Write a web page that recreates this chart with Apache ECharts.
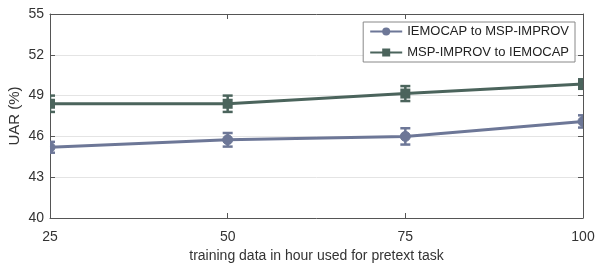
<!DOCTYPE html>
<html>
<head>
<meta charset="utf-8">
<script src="https://cdn.jsdelivr.net/npm/echarts@6/dist/echarts.min.js"></script>
<style>
  html, body { margin: 0; padding: 0; background: #fff; }
  #chart { width: 597px; height: 265px; }
</style>
</head>
<body>
<div id="chart"></div>
<script>
  // hours of pretext training data
  const hours = [25, 50, 75, 100];
  const yTicks = [40, 43, 46, 49, 52, 55];

  const iemoToMsp = [45.2, 45.75, 46.0, 47.1];
  const iemoToMspErr = [0.4, 0.5, 0.6, 0.45];
  const mspToIemo = [48.4, 48.4, 49.15, 49.85];
  const mspToIemoErr = [0.6, 0.6, 0.55, 0.35];

  const names = ['IEMOCAP to MSP-IMPROV', 'MSP-IMPROV to IEMOCAP'];
  const colors = ['#6d7797', '#4b645c'];

  const pairs = (vals, errs) => hours.map((h, i) => [h, vals[i], errs[i]]);

  const errorBars = (color, shape) => (params, api) => {
    const x = api.value(0);
    const y = api.value(1);
    const e = api.value(2);
    const p = api.coord([x, y]);
    const top = api.coord([x, y + e]);
    const bot = api.coord([x, y - e]);
    const cap = 5;
    const st = { stroke: color, lineWidth: 2.5 };
    const children = [
      { type: 'line', shape: { x1: p[0], y1: top[1], x2: p[0], y2: bot[1] }, style: st },
      { type: 'line', shape: { x1: p[0] - cap, y1: top[1], x2: p[0] + cap, y2: top[1] }, style: st },
      { type: 'line', shape: { x1: p[0] - cap, y1: bot[1], x2: p[0] + cap, y2: bot[1] }, style: st }
    ];
    if (shape === 'circle') {
      children.push({ type: 'circle', shape: { cx: p[0], cy: p[1], r: 5 }, style: { fill: color, stroke: color, lineWidth: 1 } });
    } else {
      children.push({ type: 'rect', shape: { x: p[0] - 5, y: p[1] - 5, width: 10, height: 10 }, style: { fill: color } });
    }
    return { type: 'group', children: children };
  };

  const chart = echarts.init(document.getElementById('chart'));
  const axisColor = '#555555';
  const font = 'Liberation Sans, Arial, sans-serif';

  chart.setOption({
    animation: false,
    grid: { left: 50, right: 14, top: 14, bottom: 47, containLabel: false, outerBoundsMode: 'none' },
    legend: {
      data: names,
      right: 22,
      top: 22,
      orient: 'vertical',
      itemWidth: 32,
      itemHeight: 10,
      itemGap: 8,
      padding: [3, 6, 3, 6],
      borderColor: '#888888',
      borderWidth: 1,
      backgroundColor: '#ffffff',
      textStyle: { fontFamily: font, fontSize: 13, color: '#222' }
    },
    xAxis: [
      {
        type: 'value',
        min: 25, max: 100, interval: 25,
        name: 'training data in hour used for pretext task',
        nameLocation: 'middle',
        nameGap: 31,
        nameMoveOverlap: false,
        nameTextStyle: { fontFamily: font, fontSize: 14, color: '#333' },
        axisLine: { lineStyle: { color: axisColor } },
        axisTick: { inside: true, length: 5, lineStyle: { color: axisColor } },
        axisLabel: { fontFamily: font, fontSize: 14, color: '#333', margin: 12 },
        splitLine: { show: false }
      },
      {
        type: 'value', position: 'top',
        min: 25, max: 100, interval: 25,
        axisLine: { show: true, lineStyle: { color: axisColor } },
        axisTick: { inside: true, length: 5, lineStyle: { color: axisColor } },
        axisLabel: { show: false },
        splitLine: { show: false }
      }
    ],
    yAxis: [
      {
        type: 'value',
        min: yTicks[0], max: yTicks[yTicks.length - 1], interval: 3,
        name: 'UAR (%)',
        nameLocation: 'middle',
        nameGap: 28,
        nameMoveOverlap: false,
        nameTextStyle: { fontFamily: font, fontSize: 15, color: '#333' },
        axisLine: { show: true, lineStyle: { color: axisColor } },
        axisTick: { show: true, inside: true, length: 5, lineStyle: { color: axisColor } },
        axisLabel: { fontFamily: font, fontSize: 14, color: '#333', margin: 6 },
        splitLine: { show: true, lineStyle: { color: '#e4e4e4' } }
      },
      {
        type: 'value', position: 'right',
        min: yTicks[0], max: yTicks[yTicks.length - 1], interval: 3,
        axisLine: { show: true, lineStyle: { color: axisColor } },
        axisTick: { show: true, inside: true, length: 5, lineStyle: { color: axisColor } },
        axisLabel: { show: false },
        splitLine: { show: false }
      }
    ],
    series: [
      {
        name: names[0], type: 'line',
        data: pairs(iemoToMsp, iemoToMspErr),
        symbol: 'circle', symbolSize: 9, showSymbol: false,
        lineStyle: { color: colors[0], width: 3 },
        itemStyle: { color: colors[0] },
        clip: true
      },
      {
        name: names[1], type: 'line',
        data: pairs(mspToIemo, mspToIemoErr),
        symbol: 'rect', symbolSize: 9, showSymbol: false,
        lineStyle: { color: colors[1], width: 3 },
        itemStyle: { color: colors[1] },
        clip: true
      },
      {
        name: 'err1', type: 'custom',
        renderItem: errorBars(colors[0], 'circle'),
        data: pairs(iemoToMsp, iemoToMspErr),
        encode: { x: 0, y: 1 },
        clip: true, z: 3
      },
      {
        name: 'err2', type: 'custom',
        renderItem: errorBars(colors[1], 'rect'),
        data: pairs(mspToIemo, mspToIemoErr),
        encode: { x: 0, y: 1 },
        clip: true, z: 3
      }
    ]
  });
</script>
</body>
</html>
